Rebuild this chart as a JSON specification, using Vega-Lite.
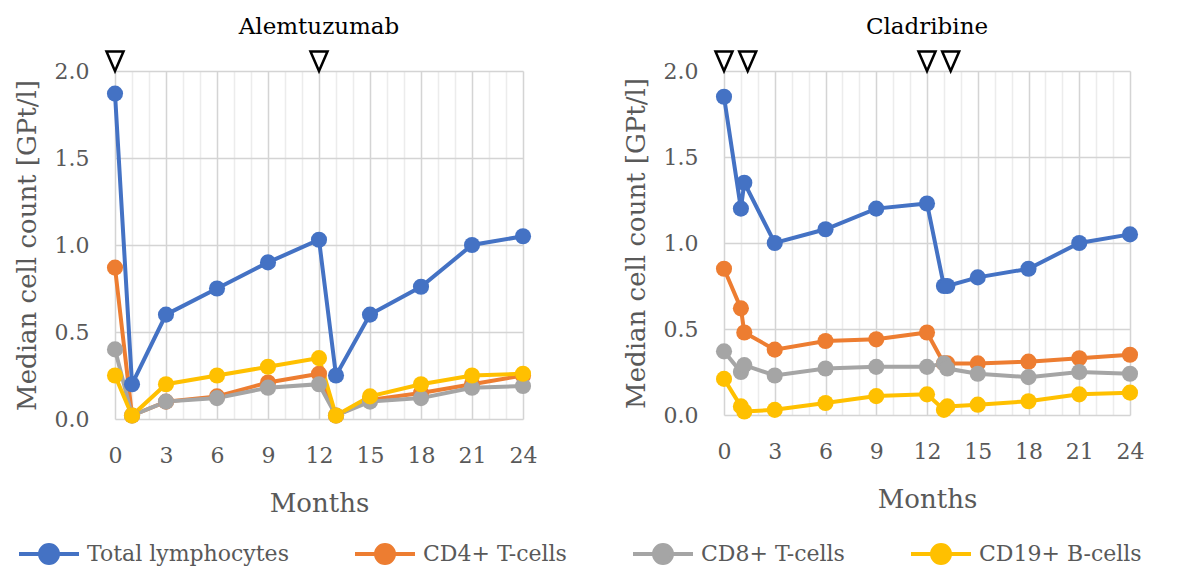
{
  "$schema": "https://vega.github.io/schema/vega-lite/v6.json",
  "background": "white",
  "padding": {"left": 14, "top": 16, "right": 6, "bottom": 0},
  "config": {
    "font": "DejaVu Serif",
    "view": {"stroke": null},
    "title": {"font": "DejaVu Serif", "fontSize": 23, "fontWeight": "normal", "color": "#000000", "offset": 7},
    "axis": {
      "labelFont": "DejaVu Serif", "labelFontSize": 22, "labelColor": "#595959",
      "titleFont": "DejaVu Serif", "titleFontSize": 26, "titleFontWeight": "normal", "titleColor": "#595959",
      "domain": false, "ticks": false
    },
    "legend": {"layout": {"bottom": {"anchor": "middle"}}}
  },
  "datasets": {
    "counts": [
      {"drug": "Alemtuzumab", "series": "Total lymphocytes", "month": 0, "value": 1.87},
      {"drug": "Alemtuzumab", "series": "Total lymphocytes", "month": 1, "value": 0.20},
      {"drug": "Alemtuzumab", "series": "Total lymphocytes", "month": 3, "value": 0.60},
      {"drug": "Alemtuzumab", "series": "Total lymphocytes", "month": 6, "value": 0.75},
      {"drug": "Alemtuzumab", "series": "Total lymphocytes", "month": 9, "value": 0.90},
      {"drug": "Alemtuzumab", "series": "Total lymphocytes", "month": 12, "value": 1.03},
      {"drug": "Alemtuzumab", "series": "Total lymphocytes", "month": 13, "value": 0.25},
      {"drug": "Alemtuzumab", "series": "Total lymphocytes", "month": 15, "value": 0.60},
      {"drug": "Alemtuzumab", "series": "Total lymphocytes", "month": 18, "value": 0.76},
      {"drug": "Alemtuzumab", "series": "Total lymphocytes", "month": 21, "value": 1.00},
      {"drug": "Alemtuzumab", "series": "Total lymphocytes", "month": 24, "value": 1.05},
      {"drug": "Alemtuzumab", "series": "CD4+ T-cells", "month": 0, "value": 0.87},
      {"drug": "Alemtuzumab", "series": "CD4+ T-cells", "month": 1, "value": 0.02},
      {"drug": "Alemtuzumab", "series": "CD4+ T-cells", "month": 3, "value": 0.10},
      {"drug": "Alemtuzumab", "series": "CD4+ T-cells", "month": 6, "value": 0.13},
      {"drug": "Alemtuzumab", "series": "CD4+ T-cells", "month": 9, "value": 0.21},
      {"drug": "Alemtuzumab", "series": "CD4+ T-cells", "month": 12, "value": 0.26},
      {"drug": "Alemtuzumab", "series": "CD4+ T-cells", "month": 13, "value": 0.02},
      {"drug": "Alemtuzumab", "series": "CD4+ T-cells", "month": 15, "value": 0.11},
      {"drug": "Alemtuzumab", "series": "CD4+ T-cells", "month": 18, "value": 0.15},
      {"drug": "Alemtuzumab", "series": "CD4+ T-cells", "month": 21, "value": 0.20},
      {"drug": "Alemtuzumab", "series": "CD4+ T-cells", "month": 24, "value": 0.25},
      {"drug": "Alemtuzumab", "series": "CD8+ T-cells", "month": 0, "value": 0.40},
      {"drug": "Alemtuzumab", "series": "CD8+ T-cells", "month": 1, "value": 0.02},
      {"drug": "Alemtuzumab", "series": "CD8+ T-cells", "month": 3, "value": 0.10},
      {"drug": "Alemtuzumab", "series": "CD8+ T-cells", "month": 6, "value": 0.12},
      {"drug": "Alemtuzumab", "series": "CD8+ T-cells", "month": 9, "value": 0.18},
      {"drug": "Alemtuzumab", "series": "CD8+ T-cells", "month": 12, "value": 0.20},
      {"drug": "Alemtuzumab", "series": "CD8+ T-cells", "month": 13, "value": 0.02},
      {"drug": "Alemtuzumab", "series": "CD8+ T-cells", "month": 15, "value": 0.10},
      {"drug": "Alemtuzumab", "series": "CD8+ T-cells", "month": 18, "value": 0.12},
      {"drug": "Alemtuzumab", "series": "CD8+ T-cells", "month": 21, "value": 0.18},
      {"drug": "Alemtuzumab", "series": "CD8+ T-cells", "month": 24, "value": 0.19},
      {"drug": "Alemtuzumab", "series": "CD19+ B-cells", "month": 0, "value": 0.25},
      {"drug": "Alemtuzumab", "series": "CD19+ B-cells", "month": 1, "value": 0.02},
      {"drug": "Alemtuzumab", "series": "CD19+ B-cells", "month": 3, "value": 0.20},
      {"drug": "Alemtuzumab", "series": "CD19+ B-cells", "month": 6, "value": 0.25},
      {"drug": "Alemtuzumab", "series": "CD19+ B-cells", "month": 9, "value": 0.30},
      {"drug": "Alemtuzumab", "series": "CD19+ B-cells", "month": 12, "value": 0.35},
      {"drug": "Alemtuzumab", "series": "CD19+ B-cells", "month": 13, "value": 0.02},
      {"drug": "Alemtuzumab", "series": "CD19+ B-cells", "month": 15, "value": 0.13},
      {"drug": "Alemtuzumab", "series": "CD19+ B-cells", "month": 18, "value": 0.20},
      {"drug": "Alemtuzumab", "series": "CD19+ B-cells", "month": 21, "value": 0.25},
      {"drug": "Alemtuzumab", "series": "CD19+ B-cells", "month": 24, "value": 0.26},
      {"drug": "Cladribine", "series": "Total lymphocytes", "month": 0, "value": 1.85},
      {"drug": "Cladribine", "series": "Total lymphocytes", "month": 1, "value": 1.20},
      {"drug": "Cladribine", "series": "Total lymphocytes", "month": 1.2, "value": 1.35},
      {"drug": "Cladribine", "series": "Total lymphocytes", "month": 3, "value": 1.00},
      {"drug": "Cladribine", "series": "Total lymphocytes", "month": 6, "value": 1.08},
      {"drug": "Cladribine", "series": "Total lymphocytes", "month": 9, "value": 1.20},
      {"drug": "Cladribine", "series": "Total lymphocytes", "month": 12, "value": 1.23},
      {"drug": "Cladribine", "series": "Total lymphocytes", "month": 13, "value": 0.75},
      {"drug": "Cladribine", "series": "Total lymphocytes", "month": 13.2, "value": 0.75},
      {"drug": "Cladribine", "series": "Total lymphocytes", "month": 15, "value": 0.80},
      {"drug": "Cladribine", "series": "Total lymphocytes", "month": 18, "value": 0.85},
      {"drug": "Cladribine", "series": "Total lymphocytes", "month": 21, "value": 1.00},
      {"drug": "Cladribine", "series": "Total lymphocytes", "month": 24, "value": 1.05},
      {"drug": "Cladribine", "series": "CD4+ T-cells", "month": 0, "value": 0.85},
      {"drug": "Cladribine", "series": "CD4+ T-cells", "month": 1, "value": 0.62},
      {"drug": "Cladribine", "series": "CD4+ T-cells", "month": 1.2, "value": 0.48},
      {"drug": "Cladribine", "series": "CD4+ T-cells", "month": 3, "value": 0.38},
      {"drug": "Cladribine", "series": "CD4+ T-cells", "month": 6, "value": 0.43},
      {"drug": "Cladribine", "series": "CD4+ T-cells", "month": 9, "value": 0.44},
      {"drug": "Cladribine", "series": "CD4+ T-cells", "month": 12, "value": 0.48},
      {"drug": "Cladribine", "series": "CD4+ T-cells", "month": 13, "value": 0.30},
      {"drug": "Cladribine", "series": "CD4+ T-cells", "month": 13.2, "value": 0.30},
      {"drug": "Cladribine", "series": "CD4+ T-cells", "month": 15, "value": 0.30},
      {"drug": "Cladribine", "series": "CD4+ T-cells", "month": 18, "value": 0.31},
      {"drug": "Cladribine", "series": "CD4+ T-cells", "month": 21, "value": 0.33},
      {"drug": "Cladribine", "series": "CD4+ T-cells", "month": 24, "value": 0.35},
      {"drug": "Cladribine", "series": "CD8+ T-cells", "month": 0, "value": 0.37},
      {"drug": "Cladribine", "series": "CD8+ T-cells", "month": 1, "value": 0.25},
      {"drug": "Cladribine", "series": "CD8+ T-cells", "month": 1.2, "value": 0.29},
      {"drug": "Cladribine", "series": "CD8+ T-cells", "month": 3, "value": 0.23},
      {"drug": "Cladribine", "series": "CD8+ T-cells", "month": 6, "value": 0.27},
      {"drug": "Cladribine", "series": "CD8+ T-cells", "month": 9, "value": 0.28},
      {"drug": "Cladribine", "series": "CD8+ T-cells", "month": 12, "value": 0.28},
      {"drug": "Cladribine", "series": "CD8+ T-cells", "month": 13, "value": 0.30},
      {"drug": "Cladribine", "series": "CD8+ T-cells", "month": 13.2, "value": 0.27},
      {"drug": "Cladribine", "series": "CD8+ T-cells", "month": 15, "value": 0.24},
      {"drug": "Cladribine", "series": "CD8+ T-cells", "month": 18, "value": 0.22},
      {"drug": "Cladribine", "series": "CD8+ T-cells", "month": 21, "value": 0.25},
      {"drug": "Cladribine", "series": "CD8+ T-cells", "month": 24, "value": 0.24},
      {"drug": "Cladribine", "series": "CD19+ B-cells", "month": 0, "value": 0.21},
      {"drug": "Cladribine", "series": "CD19+ B-cells", "month": 1, "value": 0.05},
      {"drug": "Cladribine", "series": "CD19+ B-cells", "month": 1.2, "value": 0.02},
      {"drug": "Cladribine", "series": "CD19+ B-cells", "month": 3, "value": 0.03},
      {"drug": "Cladribine", "series": "CD19+ B-cells", "month": 6, "value": 0.07},
      {"drug": "Cladribine", "series": "CD19+ B-cells", "month": 9, "value": 0.11},
      {"drug": "Cladribine", "series": "CD19+ B-cells", "month": 12, "value": 0.12},
      {"drug": "Cladribine", "series": "CD19+ B-cells", "month": 13, "value": 0.03},
      {"drug": "Cladribine", "series": "CD19+ B-cells", "month": 13.2, "value": 0.05},
      {"drug": "Cladribine", "series": "CD19+ B-cells", "month": 15, "value": 0.06},
      {"drug": "Cladribine", "series": "CD19+ B-cells", "month": 18, "value": 0.08},
      {"drug": "Cladribine", "series": "CD19+ B-cells", "month": 21, "value": 0.12},
      {"drug": "Cladribine", "series": "CD19+ B-cells", "month": 24, "value": 0.13}
    ],
    "doses": [
      {"drug": "Alemtuzumab", "month": 0, "value": 2},
      {"drug": "Alemtuzumab", "month": 12, "value": 2},
      {"drug": "Cladribine", "month": 0, "value": 2},
      {"drug": "Cladribine", "month": 1.4, "value": 2},
      {"drug": "Cladribine", "month": 12, "value": 2},
      {"drug": "Cladribine", "month": 13.4, "value": 2}
    ]
  },
  "spacing": 86,
  "resolve": {"scale": {"color": "shared"}},
  "hconcat": [
    {
      "title": "Alemtuzumab",
      "width": 408,
      "height": 348,
      "encoding": {
        "x": {"field": "month", "type": "quantitative", "scale": {"domain": [0, 24], "nice": false},
          "axis": {"title": "Months", "values": [0,1,2,3,4,5,6,7,8,9,10,11,12,13,14,15,16,17,18,19,20,21,22,23,24],
            "labelExpr": "datum.value % 3 === 0 ? datum.label : ''", "labelOverlap": false, "labelFlush": false, "labelPadding": 26, "titlePadding": 24,
            "gridColor": {"condition": {"test": "datum.value % 3 === 0", "value": "#d4d4d4"}, "value": "#ececec"}, "gridWidth": 1.5}},
        "y": {"field": "value", "type": "quantitative", "scale": {"domain": [0, 2], "nice": false},
          "axis": {"title": "Median cell count [GPt/l]", "values": [0, 0.5, 1, 1.5, 2], "format": ".1f", "labelPadding": 26, "titlePadding": 14, "gridColor": "#d4d4d4", "gridWidth": 1.5}}
      },
      "layer": [
        {
          "data": {"name": "counts"},
          "transform": [{"filter": "datum.drug === 'Alemtuzumab'"}],
          "mark": {"type": "line", "strokeWidth": 4},
          "encoding": {
            "color": {"field": "series", "type": "nominal",
              "scale": {"domain": ["Total lymphocytes", "CD4+ T-cells", "CD8+ T-cells", "CD19+ B-cells"], "range": ["#4472C4", "#ED7D31", "#A5A5A5", "#FFC000"]},
              "legend": {"orient": "bottom", "direction": "horizontal", "title": null,
                "symbolType": "M-1,0L1,0M0.3,0A0.3,0.3,0,1,1,-0.3,0A0.3,0.3,0,1,1,0.3,0Z",
                "symbolSize": 3600, "symbolStrokeWidth": 4, "labelFont": "DejaVu Serif", "labelFontSize": 22, "labelColor": "#595959",
                "labelLimit": 400, "labelOffset": 6, "columnPadding": 58, "offset": 6,
                "encode": {"symbols": {"update": {"fill": {"scale": "color", "field": "value"}, "stroke": {"scale": "color", "field": "value"}, "opacity": {"value": 1}}}}}}
          }
        },
        {
          "data": {"name": "counts"},
          "transform": [{"filter": "datum.drug === 'Alemtuzumab'"}],
          "mark": {"type": "point", "filled": true, "opacity": 1, "size": 260},
          "encoding": {
            "color": {"field": "series", "type": "nominal", "legend": null}
          }
        },
        {
          "data": {"name": "doses"},
          "transform": [{"filter": "datum.drug === 'Alemtuzumab'"}],
          "mark": {"type": "point", "shape": "M-1,-2.3L1,-2.3L0,0Z", "size": 289, "filled": false, "stroke": "#000000", "strokeWidth": 2.5, "opacity": 1},
          "encoding": {}
        }
      ]
    },
    {
      "title": "Cladribine",
      "width": 406,
      "height": 344,
      "encoding": {
        "x": {"field": "month", "type": "quantitative", "scale": {"domain": [0, 24], "nice": false},
          "axis": {"title": "Months", "values": [0,1,2,3,4,5,6,7,8,9,10,11,12,13,14,15,16,17,18,19,20,21,22,23,24],
            "labelExpr": "datum.value % 3 === 0 ? datum.label : ''", "labelOverlap": false, "labelFlush": false, "labelPadding": 26, "titlePadding": 24,
            "gridColor": {"condition": {"test": "datum.value % 3 === 0", "value": "#d4d4d4"}, "value": "#ececec"}, "gridWidth": 1.5}},
        "y": {"field": "value", "type": "quantitative", "scale": {"domain": [0, 2], "nice": false},
          "axis": {"title": "Median cell count [GPt/l]", "values": [0, 0.5, 1, 1.5, 2], "format": ".1f", "labelPadding": 26, "titlePadding": 14, "gridColor": "#d4d4d4", "gridWidth": 1.5}}
      },
      "layer": [
        {
          "data": {"name": "counts"},
          "transform": [{"filter": "datum.drug === 'Cladribine'"}],
          "mark": {"type": "line", "strokeWidth": 4},
          "encoding": {
            "color": {"field": "series", "type": "nominal"}
          }
        },
        {
          "data": {"name": "counts"},
          "transform": [{"filter": "datum.drug === 'Cladribine'"}],
          "mark": {"type": "point", "filled": true, "opacity": 1, "size": 260},
          "encoding": {
            "color": {"field": "series", "type": "nominal", "legend": null}
          }
        },
        {
          "data": {"name": "doses"},
          "transform": [{"filter": "datum.drug === 'Cladribine'"}],
          "mark": {"type": "point", "shape": "M-1,-2.3L1,-2.3L0,0Z", "size": 289, "filled": false, "stroke": "#000000", "strokeWidth": 2.5, "opacity": 1},
          "encoding": {}
        }
      ]
    }
  ]
}
